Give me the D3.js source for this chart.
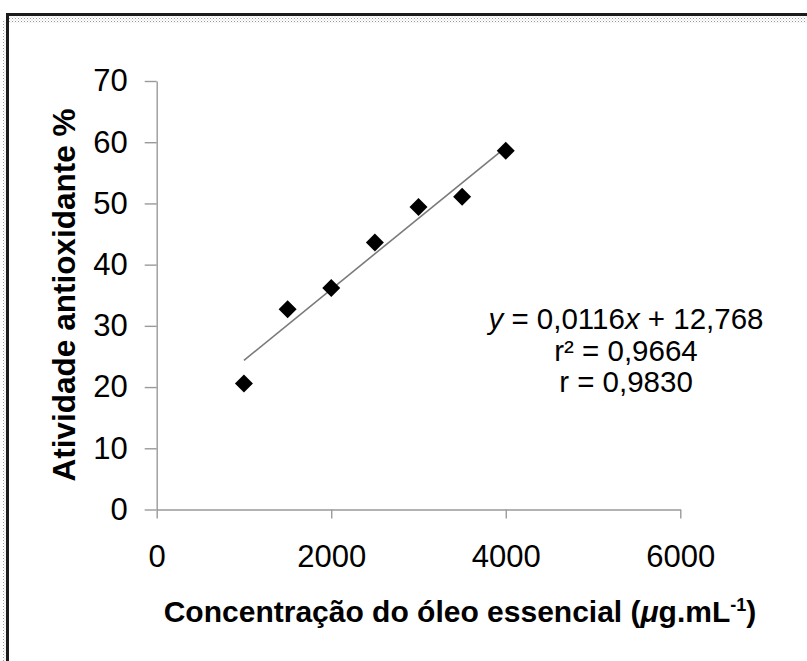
<!DOCTYPE html>
<html>
<head>
<meta charset="utf-8">
<script src="https://cdn.jsdelivr.net/npm/d3@7"></script>
<style>
  html, body { margin: 0; padding: 0; background: #fff; }
  svg { display: block; }
  text { font-family: "Liberation Sans", Arial, sans-serif; fill: #000; }
</style>
</head>
<body>
<div id="chart"></div>
<script>
// Antioxidant activity vs. essential-oil concentration, with linear fit
const concentrations = [1000, 1500, 2000, 2500, 3000, 3500, 4000];
const activity = [20.6, 32.7, 36.2, 43.6, 49.4, 51.1, 58.6];
const fitSlope = 0.0116;
const fitIntercept = 12.768;
const fitRange = [1000, 4000];
const xTicks = [0, 2000, 4000, 6000];
const yTicks = [0, 10, 20, 30, 40, 50, 60, 70];
const statsLines = ["r² = 0,9664", "r = 0,9830"];

const W = 807, H = 661;
const svg = d3.select("#chart").append("svg")
  .attr("width", W).attr("height", H);

svg.append("rect").attr("width", W).attr("height", H).attr("fill", "#fff");

// frame: dark edge with a light dotted band along the inside
const defs = svg.append("defs");
const pat = defs.append("pattern").attr("id", "dots")
  .attr("width", 3).attr("height", 3).attr("patternUnits", "userSpaceOnUse");
pat.append("rect").attr("width", 3).attr("height", 3).attr("fill", "#fff");
pat.append("rect").attr("width", 1).attr("height", 1).attr("fill", "#9a9a9a");
pat.append("rect").attr("x", 1.5).attr("y", 1.5).attr("width", 1).attr("height", 1).attr("fill", "#c8c8c8");

svg.append("rect").attr("x", 9).attr("y", 16).attr("width", W).attr("height", 7)
  .attr("fill", "url(#dots)");
svg.append("rect").attr("x", 3).attr("y", 20).attr("width", 3).attr("height", H)
  .attr("fill", "url(#dots)");
svg.append("path")
  .attr("d", `M7.5,${H} V14.5 H${W}`)
  .attr("fill", "none").attr("stroke", "#1b1b1b").attr("stroke-width", 3);

const x = d3.scaleLinear().domain([0, 6000]).range([156.7, 680.3]);
const y = d3.scaleLinear().domain([0, 70]).range([509.5, 81]);

const axisColor = "#9a9a9a";

const gx = svg.append("g").attr("transform", `translate(0,${y(0)})`)
  .call(d3.axisBottom(x).tickValues(xTicks).tickSize(9).tickSizeOuter(0)
    .tickPadding(26).tickFormat(d3.format("d")));
const gy = svg.append("g").attr("transform", `translate(${x(0)},0)`)
  .call(d3.axisLeft(y).tickValues(yTicks).tickSize(12).tickSizeOuter(0)
    .tickPadding(17).tickFormat(d3.format("d")));

[gx, gy].forEach(g => {
  g.selectAll("path.domain").attr("stroke", axisColor).attr("stroke-width", 1.4);
  g.selectAll(".tick line").attr("stroke", axisColor).attr("stroke-width", 1.4);
  g.selectAll(".tick text").attr("font-size", 31)
    .attr("font-family", "Liberation Sans, Arial, sans-serif").attr("fill", "#1a1a1a");
});

// linear fit
const trend = fitRange.map(c => [x(c), y(fitSlope * c + fitIntercept)]);
svg.append("path")
  .attr("d", d3.line()(trend))
  .attr("stroke", "#7a7a7a").attr("stroke-width", 1.6).attr("fill", "none");

// diamond markers
const r = 9;
svg.append("g").selectAll("path")
  .data(concentrations.map((c, i) => [c, activity[i]]))
  .join("path")
  .attr("d", d => {
    const px = x(d[0]), py = y(d[1]);
    return `M${px},${py - r}L${px + r},${py}L${px},${py + r}L${px - r},${py}Z`;
  })
  .attr("fill", "#000");

// regression equation block
const eqX = 626;
const eq = svg.append("text").attr("x", eqX).attr("y", 329)
  .attr("text-anchor", "middle").attr("font-size", 29.5).attr("fill", "#1a1a1a");
eq.append("tspan").attr("font-style", "italic").text("y");
eq.append("tspan").text(" = 0,0116");
eq.append("tspan").attr("font-style", "italic").text("x");
eq.append("tspan").text(" + 12,768");

statsLines.forEach((t, i) => {
  svg.append("text").attr("x", eqX).attr("y", 361 + i * 31)
    .attr("text-anchor", "middle").attr("font-size", 29.5).attr("fill", "#1a1a1a").text(t);
});

// axis titles
const xt = svg.append("text").attr("x", 460).attr("y", 622)
  .attr("text-anchor", "middle").attr("font-size", 30).attr("font-weight", "bold");
xt.append("tspan").text("Concentração do óleo essencial (");
xt.append("tspan").attr("font-style", "italic").text("μ");
xt.append("tspan").text("g.mL");
xt.append("tspan").attr("font-size", 18).attr("dy", -11).text("-1");
xt.append("tspan").attr("dy", 11).text(")");

svg.append("text")
  .attr("transform", `translate(75,295) rotate(-90)`)
  .attr("text-anchor", "middle").attr("font-size", 31.5).attr("font-weight", "bold")
  .text("Atividade antioxidante %");
</script>
</body>
</html>
